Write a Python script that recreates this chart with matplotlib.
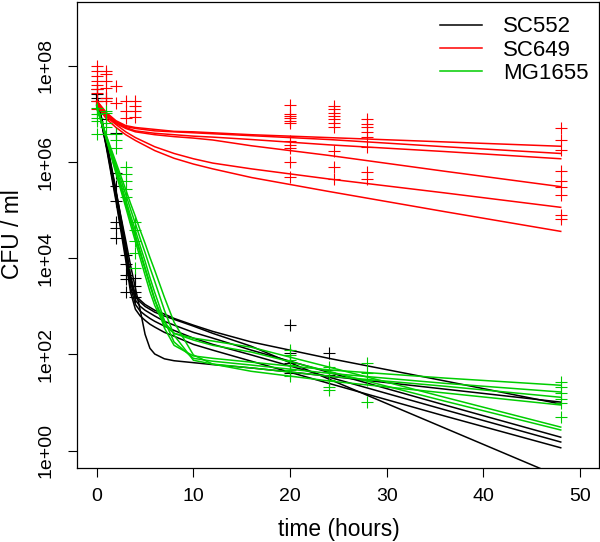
import matplotlib
matplotlib.use("Agg")
import matplotlib.pyplot as plt
from matplotlib.lines import Line2D
import numpy as np

plt.rcParams['font.family'] = ['Liberation Sans', 'DejaVu Sans']

# values below are log10(CFU / ml)

# observed counts, grouped by sampling time
sc552_obs_t = [0, 1, 2, 3, 4, 20, 24]
sc552_obs = [[7.53, 7.42, 7.34, 7.28],
             [7.34, 6.90],
             [6.61, 5.78, 5.51, 5.20, 4.75, 4.62, 4.43],
             [4.06, 3.89, 3.65, 3.56, 3.29],
             [3.60, 3.42, 3.29, 3.19],
             [2.61, 2.03, 1.82, 1.61],
             [2.03, 1.68, 1.57]]

sc649_obs_t = [0, 1, 2, 3, 4, 20, 24.5, 28, 48]
sc649_obs = [[8.00, 7.90, 7.80, 7.69, 7.61, 7.53, 7.44, 7.28, 7.11],
             [7.90, 7.84, 7.69, 7.55, 7.34, 7.28],
             [7.59, 7.23],
             [7.28, 7.07, 6.92],
             [7.28, 7.16, 7.06, 6.94],
             [7.19, 7.00, 6.95, 6.91, 6.86, 6.81, 6.43, 6.36, 6.29, 6.00, 5.69],
             [7.17, 7.10, 7.03, 6.95, 6.89, 6.82, 6.72, 6.24, 5.89, 5.65],
             [6.90, 6.79, 6.72, 6.62, 6.52, 6.32, 5.79, 5.65],
             [6.70, 6.45, 6.25, 5.82, 5.60, 5.48, 5.31, 4.91, 4.82]]

mg1655_obs_t = [0, 1, 2, 3, 4, 20, 24, 28, 48]
mg1655_obs = [[7.13, 7.01, 6.92, 6.86, 6.59],
              [7.07, 7.03, 6.82, 6.72, 6.59],
              [6.59, 6.45, 6.30],
              [5.89, 5.76, 5.60, 5.45, 5.28],
              [4.75, 4.58, 4.35, 4.12, 3.79],
              [2.09, 1.99, 1.88, 1.78, 1.68, 1.55],
              [1.74, 1.63, 1.47, 1.32, 1.26],
              [1.82, 1.61, 1.47, 1.01],
              [1.43, 1.32, 1.20, 1.07, 0.99, 0.70]]

# fitted curves
fit_t = [0, 1, 2, 3, 3.5, 4, 4.5, 5, 5.5, 6, 7, 8, 10, 12, 16, 24, 36, 48]
sc552_fit = [
    [7.38, 6.45, 5.41, 4.27, 3.65, 3.23, 3.13, 3.04, 2.98, 2.92, 2.84, 2.75, 2.61, 2.48, 2.26, 1.92, 1.45, 0.97],
    [7.38, 6.43, 5.37, 4.21, 3.58, 3.19, 3.09, 3.00, 2.94, 2.88, 2.80, 2.73, 2.59, 2.44, 2.17, 1.49, 0.47, -0.55],
    [7.36, 6.38, 5.31, 4.12, 3.50, 3.13, 3.00, 2.92, 2.86, 2.80, 2.69, 2.61, 2.46, 2.34, 2.09, 1.63, 0.95, 0.28],
    [7.34, 6.34, 5.24, 4.04, 3.40, 3.04, 2.90, 2.82, 2.75, 2.69, 2.59, 2.50, 2.34, 2.21, 1.99, 1.53, 0.85, 0.18],
    [7.32, 6.30, 5.18, 3.96, 3.29, 2.94, 2.80, 2.71, 2.63, 2.57, 2.46, 2.38, 2.21, 2.09, 1.86, 1.40, 0.72, 0.06],
    [7.28, 6.34, 5.37, 4.37, 3.85, 3.38, 2.92, 2.42, 2.13, 2.01, 1.91, 1.87, 1.83, 1.79, 1.72, 1.55, 1.28, 1.01],
]
mg1655_fit = [
    [7.17, 6.49, 5.82, 5.14, 4.81, 4.48, 4.14, 3.81, 3.48, 3.15, 2.55, 2.19, 1.97, 1.92, 1.84, 1.68, 1.51, 1.36],
    [7.15, 6.51, 5.87, 5.22, 4.89, 4.58, 4.25, 3.94, 3.60, 3.29, 2.71, 2.26, 1.92, 1.86, 1.78, 1.61, 1.40, 1.22],
    [7.13, 6.53, 5.93, 5.33, 5.02, 4.72, 4.41, 4.12, 3.81, 3.52, 2.92, 2.40, 1.88, 1.80, 1.72, 1.55, 1.34, 1.11],
    [7.11, 6.55, 5.99, 5.43, 5.14, 4.87, 4.58, 4.31, 4.02, 3.75, 3.19, 2.67, 1.99, 1.80, 1.65, 1.45, 1.20, 0.95],
    [7.19, 6.47, 5.76, 5.06, 4.70, 4.35, 4.00, 3.65, 3.31, 3.02, 2.61, 2.44, 2.34, 2.28, 2.15, 1.74, 1.11, 0.49],
    [7.17, 6.49, 5.80, 5.12, 4.79, 4.43, 4.10, 3.77, 3.44, 3.13, 2.67, 2.44, 2.30, 2.19, 2.05, 1.65, 1.03, 0.43],
]
red_fit_t = [0, 1, 2, 3, 4, 6, 8, 10, 12, 16, 24, 36, 48]
sc649_fit = [
    [7.28, 7.03, 6.86, 6.76, 6.72, 6.68, 6.64, 6.63, 6.61, 6.57, 6.51, 6.42, 6.33],
    [7.26, 7.01, 6.84, 6.74, 6.70, 6.65, 6.63, 6.61, 6.59, 6.55, 6.47, 6.32, 6.18],
    [7.23, 6.99, 6.82, 6.72, 6.65, 6.60, 6.57, 6.54, 6.52, 6.47, 6.36, 6.22, 6.07],
    [7.21, 6.96, 6.80, 6.70, 6.63, 6.57, 6.53, 6.50, 6.46, 6.34, 6.14, 5.81, 5.49],
    [7.19, 6.94, 6.78, 6.63, 6.51, 6.32, 6.18, 6.07, 5.98, 5.86, 5.65, 5.36, 5.06],
    [7.17, 6.90, 6.72, 6.57, 6.45, 6.24, 6.08, 5.96, 5.86, 5.68, 5.39, 4.97, 4.56],
]

strains = ["SC552", "SC649", "MG1655"]
colors = ["black", "#FF0000", "#00CD00"]

fig = plt.figure(figsize=(6, 5.42), dpi=100)
ax = fig.add_axes([77.4 / 600, 74.5 / 542, 522 / 600, 466 / 542])

groups = [(sc552_obs_t, sc552_obs, fit_t, sc552_fit),
          (sc649_obs_t, sc649_obs, red_fit_t, sc649_fit),
          (mg1655_obs_t, mg1655_obs, fit_t, mg1655_fit)]

for (obs_t, obs, ft, fits), col in zip(groups, colors):
    xs, ys = [], []
    for t, vals in zip(obs_t, obs):
        xs += [t] * len(vals)
        ys += vals
    ax.plot(xs, 10 ** np.array(ys), linestyle="none", marker="+",
            markersize=8, markeredgewidth=0.8, color=col)
    for f in fits:
        ax.plot(ft, 10 ** np.array(f), color=col, linewidth=1.1)

ax.set_yscale("log")
ax.set_xlim(-2, 52)
ax.set_ylim(10 ** -0.35, 10 ** 9.34)
ax.set_xticks([0, 10, 20, 30, 40, 50])
ax.set_yticks([1, 1e2, 1e4, 1e6, 1e8])
ax.set_yticklabels(["1e+00", "1e+02", "1e+04", "1e+06", "1e+08"])
ax.yaxis.set_minor_locator(matplotlib.ticker.NullLocator())
ax.tick_params(direction="out", length=6.5, width=0.8, labelsize=14)
ax.tick_params(axis="x", pad=8)
ax.tick_params(axis="y", labelrotation=90, pad=10)
for lab in ax.get_yticklabels():
    lab.set_va("center")
for s in ax.spines.values():
    s.set_linewidth(0.9)

ax.set_xlabel("time (hours)", fontsize=16.4)
ax.set_ylabel("CFU / ml", fontsize=16.4)
ax.xaxis.set_label_coords(0.5, -0.134)
ax.xaxis.label.set_va("center")
ax.yaxis.set_label_coords(-0.125, 0.5)
ax.yaxis.label.set_va("center")

handles = [Line2D([], [], color=c, linewidth=1.1) for c in colors]
ax.legend(handles, strains, loc="upper left", bbox_to_anchor=(440 / 600, 1 - 16.5 / 542),
          bbox_transform=fig.transFigure, frameon=False, borderpad=0, borderaxespad=0,
          handlelength=1.9, handletextpad=0.95, labelspacing=0.1, fontsize=16)

fig.savefig("out.png", dpi=100)
